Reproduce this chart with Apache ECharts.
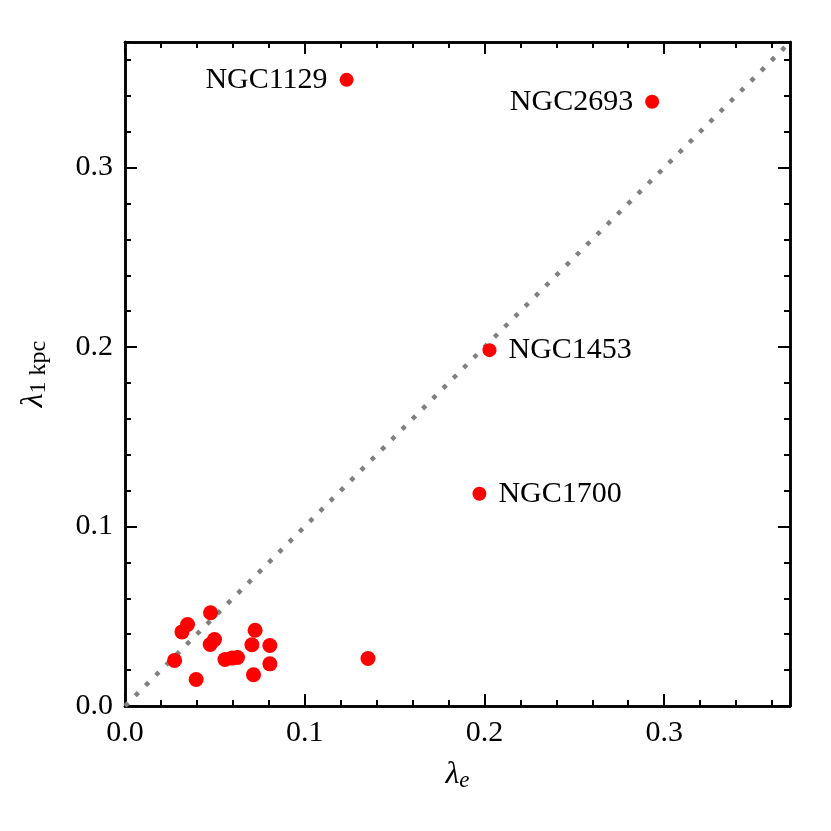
<!DOCTYPE html>
<html><head><meta charset="utf-8">
<script src="https://cdn.jsdelivr.net/npm/echarts@6/dist/echarts.min.js"></script>
<style>html,body{margin:0;padding:0;background:#fff}#c{width:831px;height:831px}</style>
</head><body><div id="c"></div>
<script>
// unlabeled galaxies
const lamE = [0.0476,0.0348,0.0317,0.0276,0.0396,0.0498,0.0474,0.0556,0.0596,0.0626,0.0724,0.0706,0.0806,0.0806,0.0715,0.1352];
const lam1kpc = [0.0520,0.0454,0.0413,0.0254,0.0148,0.0370,0.0343,0.0259,0.0267,0.0270,0.0422,0.0341,0.0337,0.0235,0.0174,0.0265];
// labeled galaxies
const labNames = ['NGC1129','NGC2693','NGC1453','NGC1700'];
const labLamE = [0.1233,0.2933,0.2028,0.1972];
const labLam1kpc = [0.3489,0.3367,0.1983,0.1183];
const labSide = ['left','left','right','right'];
// one-to-one line
const lineX = [0, 0.37];
const lineY = [0, 0.37];
const axisMin = 0, axisMax = 0.37, majorStep = 0.1, minorStep = 0.02;

const FONT = '"Liberation Serif", "DejaVu Serif", serif';
const chart = echarts.init(document.getElementById('c'));

function mkAxis(kind, pos, major) {
  const a = {
    type: 'value', position: pos, min: axisMin, max: axisMax,
    interval: major ? majorStep : minorStep,
    splitLine: {show: false},
    axisLine: {show: true, onZero: false, lineStyle: {color: '#000', width: 2.5}},
    axisTick: {show: true, inside: true, length: major ? 12 : 6, lineStyle: {color: '#000', width: 2}},
    axisLabel: {show: false},
  };
  if (major && (pos === 'bottom' || pos === 'left')) {
    a.axisLabel = {show: true, showMaxLabel: false, margin: 12, color: '#000',
      fontFamily: FONT, fontSize: 30, formatter: v => v.toFixed(1)};
    if (pos === 'bottom') {
      a.name = '{l|λ}{s|e}';
      a.nameLocation = 'middle';
      a.nameGap = 52;
      a.nameTextStyle = {rich: {
        l: {fontFamily: FONT, fontSize: 32, fontStyle: 'italic', color: '#000'},
        s: {fontFamily: FONT, fontSize: 23, fontStyle: 'italic', color: '#000', padding: [11,0,0,0]}
      }};
    } else {
      a.name = '{l|λ}{s|1 kpc}';
      a.nameLocation = 'middle';
      a.nameGap = 74;
      a.nameRotate = 90;
      a.nameTextStyle = {rich: {
        l: {fontFamily: FONT, fontSize: 32, fontStyle: 'italic', color: '#000'},
        s: {fontFamily: FONT, fontSize: 24, color: '#000', padding: [11,0,0,0]}
      }};
    }
  }
  return a;
}

const xAxes = [mkAxis('x','bottom',true), mkAxis('x','bottom',false), mkAxis('x','top',true), mkAxis('x','top',false)];
const yAxes = [mkAxis('y','left',true), mkAxis('y','left',false), mkAxis('y','right',true), mkAxis('y','right',false)];

const plain = lamE.map((x, i) => [x, lam1kpc[i]]);
const labeled = labNames.map((n, i) => ({
  value: [labLamE[i], labLam1kpc[i]],
  label: {show: true, position: labSide[i], distance: 12, formatter: n,
    fontFamily: FONT, fontSize: 30, color: '#000'}
}));

chart.setOption({
  animation: false,
  grid: {left: 125, right: 41, top: 42, bottom: 125, containLabel: false},
  xAxis: xAxes,
  yAxis: yAxes,
  series: [
    {type: 'line', xAxisIndex: 0, yAxisIndex: 0, data: lineX.map((x, i) => [x, lineY[i]]),
      showSymbol: false, symbol: 'none', silent: true, z: 1,
      lineStyle: {color: '#808080', width: 4.5, type: [4.5, 10], cap: 'butt'}},
    {type: 'scatter', xAxisIndex: 0, yAxisIndex: 0, data: plain, symbolSize: 15,
      itemStyle: {color: '#ff0000', opacity: 1}, z: 3},
    {type: 'scatter', xAxisIndex: 0, yAxisIndex: 0, data: labeled, symbolSize: 14,
      itemStyle: {color: '#ff0000', opacity: 1}, z: 3}
  ]
});
</script></body></html>
